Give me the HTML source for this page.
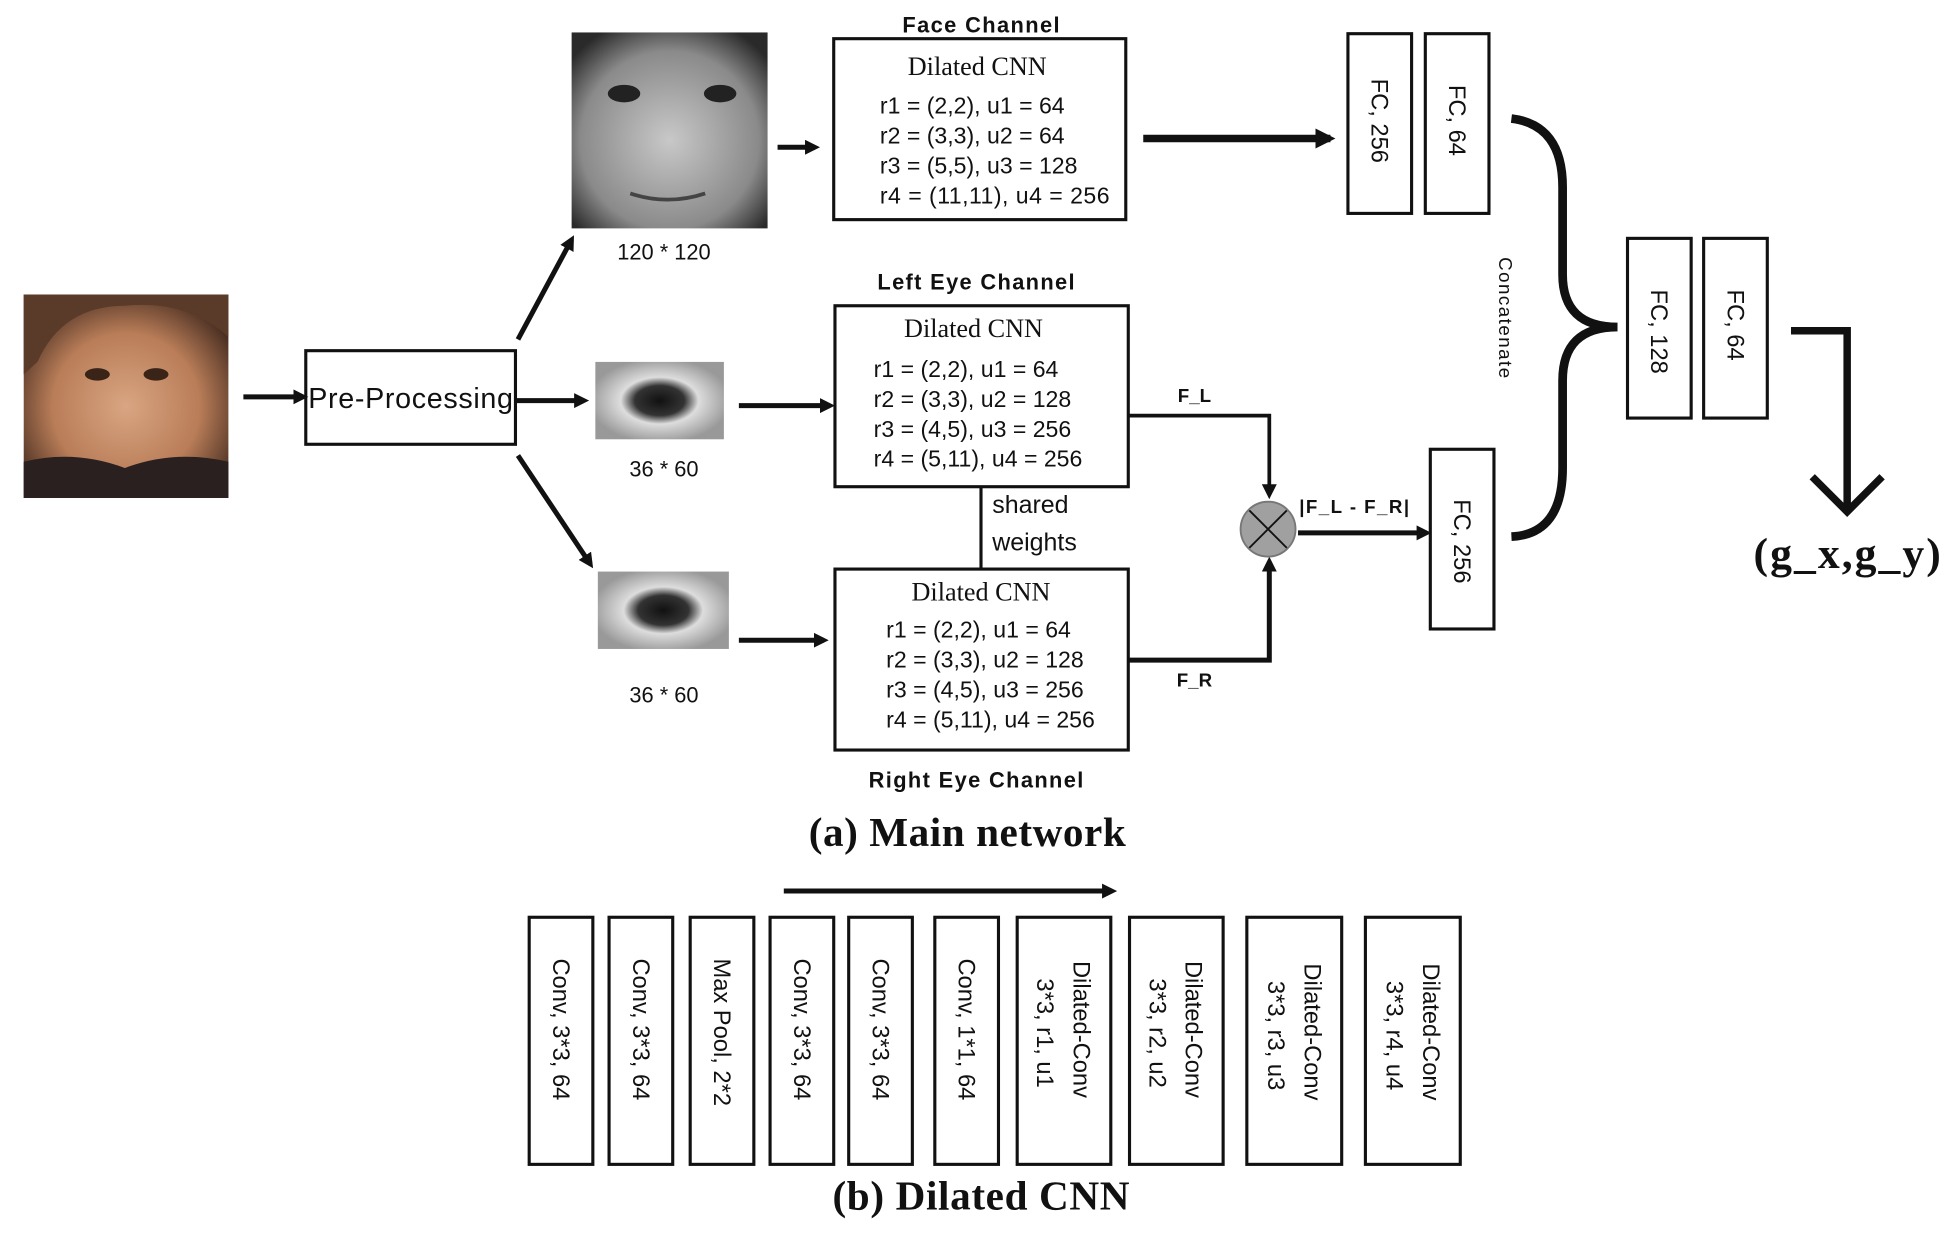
<!DOCTYPE html>
<html><head><style>html,body{margin:0;padding:0;background:#fff}svg{display:block}</style></head><body>
<svg width="1957" height="1233" viewBox="0 0 1568 988" preserveAspectRatio="none" xmlns="http://www.w3.org/2000/svg" font-family="Liberation Sans, sans-serif">
<defs>
<marker id="ah" markerWidth="12" markerHeight="12" refX="8" refY="6" orient="auto" markerUnits="userSpaceOnUse" viewBox="0 0 12 12"><path d="M0,0 L12,6 L0,12 z" fill="#111"/></marker>
<marker id="ah2" markerWidth="16" markerHeight="16" refX="12" refY="8" orient="auto" markerUnits="userSpaceOnUse" viewBox="0 0 16 16"><path d="M0,0 L16,8 L0,16 z" fill="#111"/></marker>
<radialGradient id="face" cx="50%" cy="55%" r="60%"><stop offset="0" stop-color="#d9a582"/><stop offset="0.6" stop-color="#b97d58"/><stop offset="1" stop-color="#4a2f22"/></radialGradient>
<radialGradient id="gface" cx="50%" cy="55%" r="65%"><stop offset="0" stop-color="#c8c8c8"/><stop offset="0.7" stop-color="#8a8a8a"/><stop offset="1" stop-color="#2a2a2a"/></radialGradient>
<radialGradient id="eye" cx="50%" cy="50%" r="55%"><stop offset="0" stop-color="#111"/><stop offset="0.35" stop-color="#333"/><stop offset="0.55" stop-color="#ddd"/><stop offset="1" stop-color="#999"/></radialGradient>
</defs>
<g stroke="#111" fill="none">
<rect x="19" y="236" width="164" height="163" fill="url(#face)" stroke="none"/>
<path d="M19,236 H183 V270 Q150,240 100,245 Q50,245 30,290 L19,300z" fill="#5a3a28" stroke="none"/>
<path d="M19,370 Q60,360 100,375 Q140,360 183,370 V399 H19z" fill="#2a2020" stroke="none"/>
<ellipse cx="78" cy="300" rx="10" ry="5" fill="#3a2418" stroke="none"/>
<ellipse cx="125" cy="300" rx="10" ry="5" fill="#3a2418" stroke="none"/>
<rect x="458" y="26" width="157" height="157" fill="url(#gface)" stroke="none"/>
<ellipse cx="500" cy="75" rx="13" ry="7" fill="#222" stroke="none"/>
<ellipse cx="577" cy="75" rx="13" ry="7" fill="#222" stroke="none"/>
<path d="M505,155 Q535,165 565,155" stroke="#444" stroke-width="3"/>
<rect x="477" y="290" width="103" height="62" fill="url(#eye)" stroke="none"/>
<rect x="479" y="458" width="105" height="62" fill="url(#eye)" stroke="none"/>

<g stroke-width="2.5">
<rect x="245" y="281" width="168" height="75"/>
<rect x="668" y="31" width="234" height="145"/>
<rect x="669" y="245" width="235" height="145"/>
<rect x="669" y="456" width="235" height="145"/>
<rect x="1080" y="27" width="51" height="144"/>
<rect x="1142" y="27" width="51" height="144"/>
<rect x="1146" y="360" width="51" height="144"/>
<rect x="1304" y="191" width="51" height="144"/>
<rect x="1365" y="191" width="51" height="144"/>
<rect x="424" y="735" width="51" height="198"/>
<rect x="488" y="735" width="51" height="198"/>
<rect x="553" y="735" width="51" height="198"/>
<rect x="617" y="735" width="51" height="198"/>
<rect x="680" y="735" width="51" height="198"/>
<rect x="749" y="735" width="51" height="198"/>
<rect x="815" y="735" width="75" height="198"/>
<rect x="905" y="735" width="75" height="198"/>
<rect x="999" y="735" width="76" height="198"/>
<rect x="1094" y="735" width="76" height="198"/>
</g>
<g stroke-width="4">
<line x1="195" y1="318" x2="243" y2="318" marker-end="url(#ah)"/>
<line x1="413" y1="321" x2="468" y2="321" marker-end="url(#ah)"/>
<line x1="415" y1="272" x2="458" y2="192" marker-end="url(#ah)"/>
<line x1="415" y1="365" x2="473" y2="452" marker-end="url(#ah)"/>
<line x1="623" y1="118" x2="653" y2="118" marker-end="url(#ah)"/>
<line x1="592" y1="325" x2="665" y2="325" marker-end="url(#ah)"/>
<line x1="592" y1="513" x2="660" y2="513" marker-end="url(#ah)"/>
<line x1="628" y1="714" x2="891" y2="714" marker-end="url(#ah)"/>
<line x1="1040" y1="427" x2="1143" y2="427" marker-end="url(#ah)"/>
</g>
<line x1="916" y1="111" x2="1066" y2="111" stroke-width="6" marker-end="url(#ah2)"/>
<line x1="786" y1="390" x2="786" y2="457" stroke-width="2.5"/>
<polyline points="904,333 1017,333 1017,396" stroke-width="3" marker-end="url(#ah)"/>
<polyline points="904,529 1017,529 1017,450" stroke-width="4" marker-end="url(#ah)"/>
<circle cx="1016" cy="424" r="22" fill="#a0a0a0" stroke="#777" stroke-width="1.5"/>
<line x1="1001" y1="409" x2="1031" y2="439" stroke-width="1.5"/>
<line x1="1031" y1="409" x2="1001" y2="439" stroke-width="1.5"/>
<path d="M1211,95 Q1252,100 1252,150 V220 Q1252,262 1296,262 Q1252,262 1252,305 V375 Q1252,428 1211,430" stroke-width="7"/>
<polyline points="1435,265 1480,265 1480,410" stroke-width="6"/>
<polyline points="1452,382 1480,410 1508,382" stroke-width="6"/>
</g>

<g fill="#111" font-size="17.5">
<text x="786" y="26" text-anchor="middle" font-weight="bold" textLength="126">Face Channel</text>
<text x="782" y="232" text-anchor="middle" font-weight="bold" textLength="158">Left Eye Channel</text>
<text x="782" y="631" text-anchor="middle" font-weight="bold" textLength="172">Right Eye Channel</text>
<text x="329" y="327" text-anchor="middle" font-size="23" textLength="164">Pre-Processing</text>
<text x="532" y="208" text-anchor="middle">120 * 120</text>
<text x="532" y="382" text-anchor="middle">36 * 60</text>
<text x="532" y="563" text-anchor="middle">36 * 60</text>
<g font-family="Liberation Serif, serif" font-size="21" text-anchor="middle">
<text x="783" y="60">Dilated CNN</text>
<text x="780" y="270">Dilated CNN</text>
<text x="786" y="481">Dilated CNN</text>
</g>
<g font-size="18.5">
<text x="705" y="91">r1 = (2,2), u1 = 64</text>
<text x="705" y="115">r2 = (3,3), u2 = 64</text>
<text x="705" y="139">r3 = (5,5), u3 = 128</text>
<text x="705" y="163" textLength="184">r4 = (11,11), u4 = 256</text>
<text x="700" y="302">r1 = (2,2), u1 = 64</text>
<text x="700" y="326">r2 = (3,3), u2 = 128</text>
<text x="700" y="350">r3 = (4,5), u3 = 256</text>
<text x="700" y="374">r4 = (5,11), u4 = 256</text>
<text x="710" y="511">r1 = (2,2), u1 = 64</text>
<text x="710" y="535">r2 = (3,3), u2 = 128</text>
<text x="710" y="559">r3 = (4,5), u3 = 256</text>
<text x="710" y="583">r4 = (5,11), u4 = 256</text>
<text x="795" y="411" font-size="20">shared</text>
<text x="795" y="441" font-size="20">weights</text>
</g>
<g font-weight="bold" font-size="15">
<text x="957" y="322" text-anchor="middle">F_L</text>
<text x="957" y="550" text-anchor="middle">F_R</text>
<text x="1085" y="411" text-anchor="middle" textLength="88">|F_L - F_R|</text>
</g>
<g font-size="19">
<text transform="translate(1099,63) rotate(90)">FC, 256</text>
<text transform="translate(1161,68) rotate(90)">FC, 64</text>
<text transform="translate(1165,400) rotate(90)">FC, 256</text>
<text transform="translate(1323,232) rotate(90)">FC, 128</text>
<text transform="translate(1384,232) rotate(90)">FC, 64</text>
<text transform="translate(1201,206) rotate(90)" font-size="15" textLength="97">Concatenate</text>
<text transform="translate(443,768) rotate(90)">Conv, 3*3, 64</text>
<text transform="translate(507,768) rotate(90)">Conv, 3*3, 64</text>
<text transform="translate(572,768) rotate(90)">Max Pool, 2*2</text>
<text transform="translate(636,768) rotate(90)">Conv, 3*3, 64</text>
<text transform="translate(699,768) rotate(90)">Conv, 3*3, 64</text>
<text transform="translate(768,768) rotate(90)">Conv, 1*1, 64</text>
<text transform="translate(860,770) rotate(90)">Dilated-Conv</text>
<text transform="translate(831,784) rotate(90)">3*3, r1, u1</text>
<text transform="translate(950,770) rotate(90)">Dilated-Conv</text>
<text transform="translate(921,784) rotate(90)">3*3, r2, u2</text>
<text transform="translate(1045,772) rotate(90)">Dilated-Conv</text>
<text transform="translate(1016,786) rotate(90)">3*3, r3, u3</text>
<text transform="translate(1140,772) rotate(90)">Dilated-Conv</text>
<text transform="translate(1111,786) rotate(90)">3*3, r4, u4</text>
</g>
<g font-family="Liberation Serif, serif" font-weight="bold" text-anchor="middle">
<text x="1480" y="455" font-size="35" textLength="150">(g_x,g_y)</text>
<text x="775" y="678" font-size="33" textLength="254">(a) Main network</text>
<text x="786" y="969" font-size="33" textLength="238">(b) Dilated CNN</text>
</g>
</g>
</svg>
</body></html>
